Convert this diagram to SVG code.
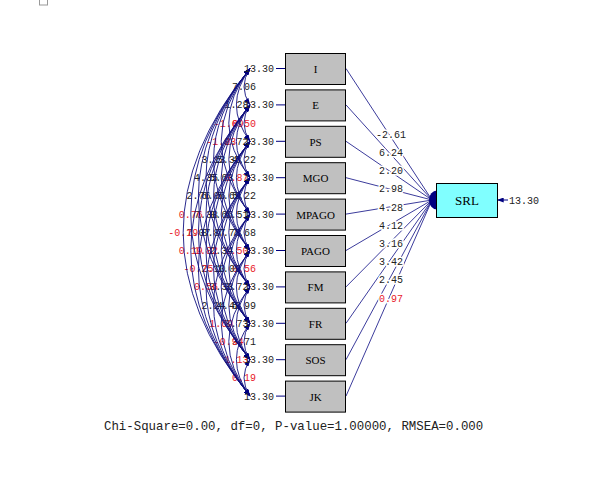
<svg xmlns="http://www.w3.org/2000/svg" width="614" height="492" viewBox="0 0 614 492">
<style>
.box{fill:#c0c0c0;stroke:#000;stroke-width:1}
.bt{font-family:"Liberation Serif",serif;font-size:11px;fill:#000;text-anchor:middle}
.n{font-family:"Liberation Mono",monospace;font-size:10px;fill:#222}
.r{font-family:"Liberation Mono",monospace;font-size:10px;fill:#e8202a}
.arc{fill:none;stroke:#101080;stroke-width:0.9}
.ln{fill:none;stroke:#3c3c9c;stroke-width:1}
.h{stroke:#fff;stroke-width:3;paint-order:stroke;text-anchor:middle}
.cl{text-anchor:middle}
</style>
<defs>
<marker id="ah" viewBox="0 0 8 6" refX="8" refY="3" markerWidth="7" markerHeight="5" markerUnits="userSpaceOnUse" orient="auto-start-reverse"><path d="M0,0 L8,3 L0,6 z" fill="#000080"/></marker>
</defs>
<rect x="39.5" y="-4" width="8" height="9" fill="none" stroke="#999" stroke-width="1"/>

<g id="cov-labels">
<text class="n cl" x="244" y="90.2">7.06</text>
<text class="n cl" x="236.4" y="108.4">1.28</text>
<text class="r cl" x="244" y="126.6">0.50</text>
<text class="r cl" x="228.8" y="126.6">-1.69</text>
<text class="n cl" x="236.4" y="144.8">2.72</text>
<text class="r cl" x="221.2" y="144.8">-1.03</text>
<text class="n cl" x="244" y="163">4.22</text>
<text class="n cl" x="228.8" y="163">5.35</text>
<text class="n cl" x="213.6" y="163">3.13</text>
<text class="r cl" x="236.4" y="181.2">0.87</text>
<text class="n cl" x="221.2" y="181.2">5.63</text>
<text class="n cl" x="206" y="181.2">4.35</text>
<text class="n cl" x="244" y="199.4">5.22</text>
<text class="n cl" x="228.8" y="199.4">5.69</text>
<text class="n cl" x="213.6" y="199.4">6.06</text>
<text class="n cl" x="198.4" y="199.4">2.76</text>
<text class="n cl" x="236.4" y="217.6">6.51</text>
<text class="n cl" x="221.2" y="217.6">8.66</text>
<text class="n cl" x="206" y="217.6">7.38</text>
<text class="r cl" x="190.8" y="217.6">0.76</text>
<text class="n cl" x="244" y="235.8">7.68</text>
<text class="n cl" x="228.8" y="235.8">7.73</text>
<text class="n cl" x="213.6" y="235.8">8.87</text>
<text class="n cl" x="198.4" y="235.8">7.07</text>
<text class="r cl" x="183.2" y="235.8">-0.19</text>
<text class="r cl" x="236.4" y="254">1.50</text>
<text class="n cl" x="221.2" y="254">2.34</text>
<text class="r cl" x="206" y="254">1.82</text>
<text class="r cl" x="190.8" y="254">0.19</text>
<text class="r cl" x="244" y="272.2">0.56</text>
<text class="n cl" x="228.8" y="272.2">1.09</text>
<text class="n cl" x="213.6" y="272.2">2.10</text>
<text class="r cl" x="198.4" y="272.2">-0.75</text>
<text class="n cl" x="236.4" y="290.4">3.72</text>
<text class="n cl" x="221.2" y="290.4">3.33</text>
<text class="r cl" x="206" y="290.4">0.56</text>
<text class="n cl" x="244" y="308.6">5.99</text>
<text class="n cl" x="228.8" y="308.6">4.48</text>
<text class="n cl" x="213.6" y="308.6">2.24</text>
<text class="n cl" x="236.4" y="326.8">3.73</text>
<text class="r cl" x="221.2" y="326.8">1.69</text>
<text class="n cl" x="244" y="345">3.71</text>
<text class="r cl" x="228.8" y="345">-0.94</text>
<text class="r cl" x="236.4" y="363.2">1.13</text>
<text class="r cl" x="244" y="381.4">0.19</text>
</g>

<g id="connectors">
<!-- covariance arcs -->
<g class="arc" marker-start="url(#ah)" marker-end="url(#ah)">
<path d="M250,68.5 Q238,86.7 250,104.9"/>
<path d="M250,68.5 Q222.8,104.9 250,141.3"/>
<path d="M250,68.5 Q207.6,123.1 250,177.7"/>
<path d="M250,68.5 Q192.4,141.3 250,214.1"/>
<path d="M250,68.5 Q177.2,159.5 250,250.5"/>
<path d="M250,68.5 Q162,177.7 250,286.9"/>
<path d="M250,68.5 Q146.8,195.9 250,323.3"/>
<path d="M250,68.5 Q131.6,214.1 250,359.7"/>
<path d="M250,68.5 Q116.4,232.3 250,396.1"/>
<path d="M250,104.9 Q238,123.1 250,141.3"/>
<path d="M250,104.9 Q222.8,141.3 250,177.7"/>
<path d="M250,104.9 Q207.6,159.5 250,214.1"/>
<path d="M250,104.9 Q192.4,177.7 250,250.5"/>
<path d="M250,104.9 Q177.2,195.9 250,286.9"/>
<path d="M250,104.9 Q162,214.1 250,323.3"/>
<path d="M250,104.9 Q146.8,232.3 250,359.7"/>
<path d="M250,104.9 Q131.6,250.5 250,396.1"/>
<path d="M250,141.3 Q238,159.5 250,177.7"/>
<path d="M250,141.3 Q222.8,177.7 250,214.1"/>
<path d="M250,141.3 Q207.6,195.9 250,250.5"/>
<path d="M250,141.3 Q192.4,214.1 250,286.9"/>
<path d="M250,141.3 Q177.2,232.3 250,323.3"/>
<path d="M250,141.3 Q162,250.5 250,359.7"/>
<path d="M250,141.3 Q146.8,268.7 250,396.1"/>
<path d="M250,177.7 Q238,195.9 250,214.1"/>
<path d="M250,177.7 Q222.8,214.1 250,250.5"/>
<path d="M250,177.7 Q207.6,232.3 250,286.9"/>
<path d="M250,177.7 Q192.4,250.5 250,323.3"/>
<path d="M250,177.7 Q177.2,268.7 250,359.7"/>
<path d="M250,177.7 Q162,286.9 250,396.1"/>
<path d="M250,214.1 Q238,232.3 250,250.5"/>
<path d="M250,214.1 Q222.8,250.5 250,286.9"/>
<path d="M250,214.1 Q207.6,268.7 250,323.3"/>
<path d="M250,214.1 Q192.4,286.9 250,359.7"/>
<path d="M250,214.1 Q177.2,305.1 250,396.1"/>
<path d="M250,250.5 Q238,268.7 250,286.9"/>
<path d="M250,250.5 Q222.8,286.9 250,323.3"/>
<path d="M250,250.5 Q207.6,305.1 250,359.7"/>
<path d="M250,250.5 Q192.4,323.3 250,396.1"/>
<path d="M250,286.9 Q238,305.1 250,323.3"/>
<path d="M250,286.9 Q222.8,323.3 250,359.7"/>
<path d="M250,286.9 Q207.6,341.5 250,396.1"/>
<path d="M250,323.3 Q238,341.5 250,359.7"/>
<path d="M250,323.3 Q222.8,359.7 250,396.1"/>
<path d="M250,359.7 Q238,377.9 250,396.1"/>
</g>

<!-- error terms -->
<g stroke="#000080" stroke-width="1">
<line x1="276" y1="68.5" x2="285" y2="68.5"/>
<line x1="276" y1="104.9" x2="285" y2="104.9"/>
<line x1="276" y1="141.3" x2="285" y2="141.3"/>
<line x1="276" y1="177.7" x2="285" y2="177.7"/>
<line x1="276" y1="214.1" x2="285" y2="214.1"/>
<line x1="276" y1="250.5" x2="285" y2="250.5"/>
<line x1="276" y1="286.9" x2="285" y2="286.9"/>
<line x1="276" y1="323.3" x2="285" y2="323.3"/>
<line x1="276" y1="359.7" x2="285" y2="359.7"/>
<line x1="276" y1="396.1" x2="285" y2="396.1"/>
</g>
<g class="n">
<text x="244" y="72">13.30</text>
<text x="244" y="108.4">13.30</text>
<text x="244" y="144.8">13.30</text>
<text x="244" y="181.2">13.30</text>
<text x="244" y="217.6">13.30</text>
<text x="244" y="254">13.30</text>
<text x="244" y="290.4">13.30</text>
<text x="244" y="326.8">13.30</text>
<text x="244" y="363.2">13.30</text>
<text x="244" y="399.6">13.30</text>
</g>

<!-- paths to SRL -->
<g class="ln">
<line x1="346" y1="68.5" x2="432" y2="200"/>
<line x1="346" y1="104.9" x2="432" y2="200"/>
<line x1="346" y1="141.3" x2="432" y2="200"/>
<line x1="346" y1="177.7" x2="432" y2="200"/>
<line x1="346" y1="214.1" x2="432" y2="200"/>
<line x1="346" y1="250.5" x2="432" y2="200"/>
<line x1="346" y1="286.9" x2="432" y2="200"/>
<line x1="346" y1="323.3" x2="432" y2="200"/>
<line x1="346" y1="359.7" x2="432" y2="200"/>
<line x1="346" y1="396.1" x2="432" y2="200"/>
</g>
<ellipse cx="437" cy="200" rx="8" ry="9.5" fill="#000080"/>
<text class="n h" x="391" y="137.8">-2.61</text>
<text class="n h" x="391" y="156">6.24</text>
<text class="n h" x="391" y="174.2">2.20</text>
<text class="n h" x="391" y="192.4">2.98</text>
<text class="n h" x="391" y="210.6">4.28</text>
<text class="n h" x="391" y="228.8">4.12</text>
<text class="n h" x="391" y="247">3.16</text>
<text class="n h" x="391" y="265.2">3.42</text>
<text class="n h" x="391" y="283.4">2.45</text>
<text class="r h" x="391" y="301.6">0.97</text>

<!-- SRL error -->
<line x1="508" y1="200" x2="497" y2="200" stroke="#000080" stroke-width="1" marker-end="url(#ah)"/>
<text class="n" x="509" y="204">13.30</text>
</g>

<g id="node-I"><rect class="box" x="285.5" y="53.5" width="60" height="31"/><text class="bt" x="315.5" y="73">I</text></g>
<g id="node-E"><rect class="box" x="285.5" y="89.9" width="60" height="31"/><text class="bt" x="315.5" y="109.4">E</text></g>
<g id="node-PS"><rect class="box" x="285.5" y="126.3" width="60" height="31"/><text class="bt" x="315.5" y="145.8">PS</text></g>
<g id="node-MGO"><rect class="box" x="285.5" y="162.7" width="60" height="31"/><text class="bt" x="315.5" y="182.2">MGO</text></g>
<g id="node-MPAGO"><rect class="box" x="285.5" y="199.1" width="60" height="31"/><text class="bt" x="315.5" y="218.6">MPAGO</text></g>
<g id="node-PAGO"><rect class="box" x="285.5" y="235.5" width="60" height="31"/><text class="bt" x="315.5" y="255">PAGO</text></g>
<g id="node-FM"><rect class="box" x="285.5" y="271.9" width="60" height="31"/><text class="bt" x="315.5" y="291.4">FM</text></g>
<g id="node-FR"><rect class="box" x="285.5" y="308.3" width="60" height="31"/><text class="bt" x="315.5" y="327.8">FR</text></g>
<g id="node-SOS"><rect class="box" x="285.5" y="344.7" width="60" height="31"/><text class="bt" x="315.5" y="364.2">SOS</text></g>
<g id="node-JK"><rect class="box" x="285.5" y="381.1" width="60" height="31"/><text class="bt" x="315.5" y="400.6">JK</text></g>
<g id="node-SRL"><rect x="436.5" y="183.5" width="61" height="34" fill="#80ffff" stroke="#000" stroke-width="1"/><text class="bt" x="467" y="205" style="font-size:13px">SRL</text></g>

<text x="104" y="429.5" style="font-family:'Liberation Mono',monospace;font-size:12.4px;fill:#222">Chi-Square=0.00, df=0, P-value=1.00000, RMSEA=0.000</text>
</svg>
